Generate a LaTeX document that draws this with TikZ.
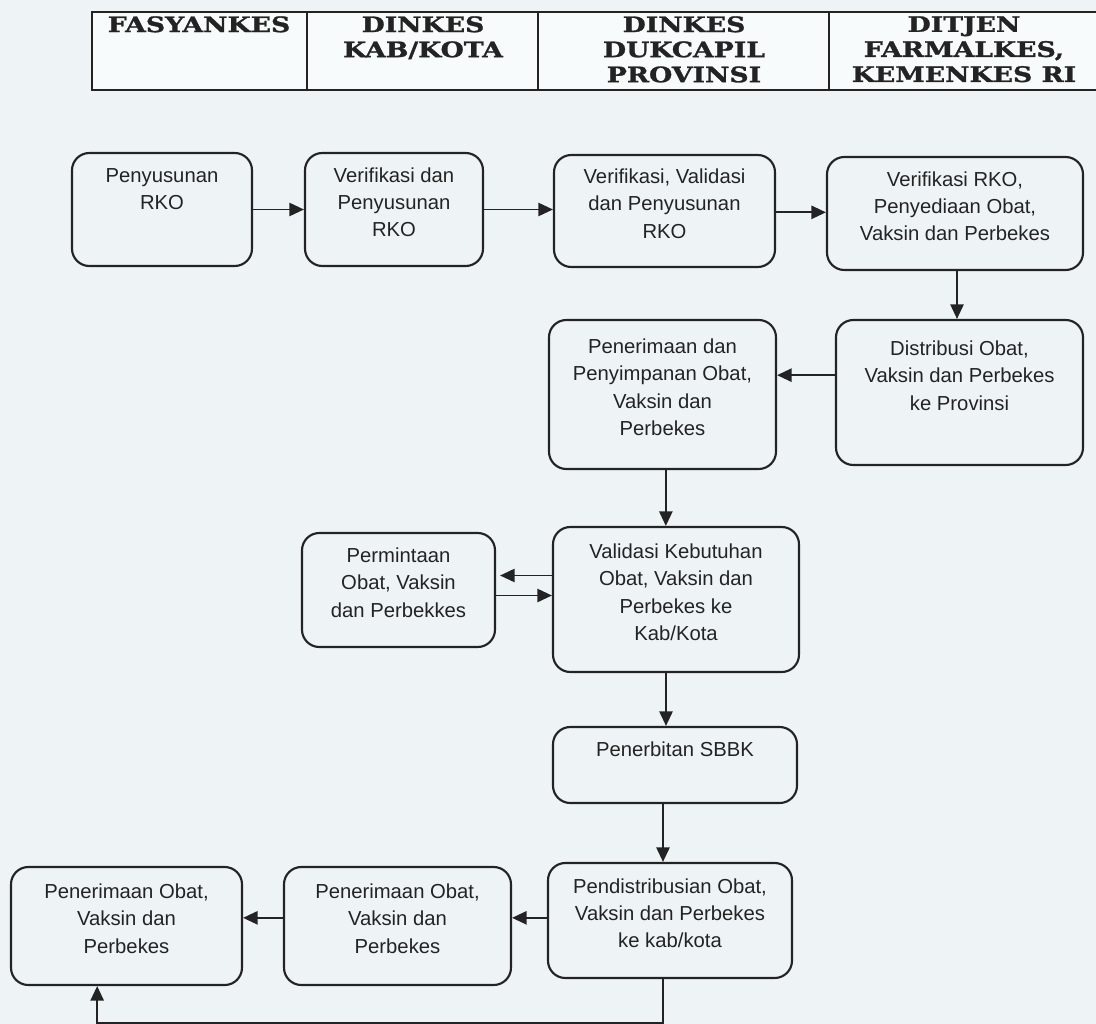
\documentclass[tikz,border=0pt]{standalone}
\usepackage{fontspec}
\setmainfont{Liberation Sans}
\newfontfamily\headfont[FakeStretch=1.25,FakeBold=1.3]{DejaVu Serif Bold}
\usetikzlibrary{arrows.meta,fit}
\definecolor{paper}{RGB}{238,244,246}
\definecolor{ink}{RGB}{35,35,35}
\begin{document}
\begin{tikzpicture}[x=0.75pt,y=-0.75pt,
  box/.style={draw=ink, line width=1.6pt, rounded corners=13pt, fill=paper,
    inner sep=0pt, align=center, font=\fontsize{15.2}{20.5}\selectfont, text=ink},
  hdr/.style={align=center, inner sep=0pt, text=ink,
    font=\headfont\fontsize{16}{18.8}\selectfont},
  arr/.style={draw=ink, line width=1.4pt, -{Triangle[length=11pt,width=10pt]}},
  grid/.style={draw=ink, line width=1pt}]
\useasboundingbox (0,0) rectangle (1096,1024);
\fill[paper] (0,0) rectangle (1096,1024);

% header table
\fill[white!60!paper] (92,12) rectangle (1096,90);
\draw[grid] (1096,12) -- (92,12) -- (92,90) -- (1096,90);
\draw[grid] (307,12) -- (307,90) (538,12) -- (538,90) (829,12) -- (829,90);
\node[hdr, anchor=north] (h1) at (199,16) {FASYANKES};
\node[hdr, anchor=north] (h2) at (423,16) {DINKES\\KAB/KOTA};
\node[hdr, anchor=north] (h3) at (684,16) {DINKES\\DUKCAPIL\\PROVINSI};
\node[hdr, anchor=north] (h4) at (964,16) {DITJEN\\FARMALKES,\\KEMENKES RI};

% process boxes
\node[box, fit={(72,153) (252,266)}] (b1) {Penyusunan\\RKO\\~};
\node[box, fit={(305,153) (483,266)}] (b2) {Verifikasi dan\\Penyusunan\\RKO};
\node[box, fit={(554,155) (775,267)}] (b3) {Verifikasi, Validasi\\dan Penyusunan\\RKO};
\node[box, fit={(827,157) (1083,270)}] (b4) {Verifikasi RKO,\\Penyediaan Obat,\\Vaksin dan Perbekes};
\node[box, fit={(836,320) (1083,465)}] (b5) {Distribusi Obat,\\Vaksin dan Perbekes\\ke Provinsi\\[-6pt]~};
\node[box, fit={(549,320) (776,469)}] (b6) {Penerimaan dan\\Penyimpanan Obat,\\Vaksin dan\\Perbekes};
\node[box, fit={(302,533) (495,647)}] (b7) {Permintaan\\Obat, Vaksin\\dan Perbekkes};
\node[box, fit={(553,527) (799,672)}] (b8) {Validasi Kebutuhan\\Obat, Vaksin dan\\Perbekes ke\\Kab/Kota};
\node[box, fit={(553,727) (797,803)}] (b9) {Penerbitan SBBK\\[-8pt]~};
\node[box, fit={(548,863) (792,978)}] (b10) {Pendistribusian Obat,\\Vaksin dan Perbekes\\ke kab/kota};
\node[box, fit={(284,867) (511,985)}] (b11) {Penerimaan Obat,\\Vaksin dan\\Perbekes};
\node[box, fit={(11,867) (242,985)}] (b12) {Penerimaan Obat,\\Vaksin dan\\Perbekes};

% connectors
\draw[arr] (b1) -- (b2);
\draw[arr] (b2.east) -- (b2.east -| b3.west);
\draw[arr] ([yshift=-1pt]b3.east) -- ([yshift=-1pt]b3.east -| b4.west);
\draw[arr] ([xshift=1.5pt]b4.south) -- ([xshift=1.5pt]b4.south |- b5.north);
\draw[arr] ([yshift=13pt]b5.west) -- ([yshift=13pt]b5.west -| b6.east);
\draw[arr] ([xshift=2.5pt]b6.south) -- ([xshift=2.5pt]b6.south |- b8.north);
\draw[arr, shorten >=3pt] ([yshift=18pt]b8.west) -- ([yshift=18pt]b8.west -| b7.east);
\draw[arr] ([yshift=3pt]b8.west -| b7.east) -- ([yshift=3pt]b8.west);
\draw[arr] ([xshift=-7.5pt]b8.south) -- ([xshift=-7.5pt]b8.south |- b9.north);
\draw[arr] ([xshift=-9pt]b9.south) -- ([xshift=-9pt]b9.south |- b10.north);
\draw[arr] ([yshift=2pt]b10.west) -- ([yshift=2pt]b10.west -| b11.east);
\draw[arr] ([yshift=2pt]b10.west -| b11.west) -- ([yshift=2pt]b10.west -| b12.east);
\coordinate (loop) at (0,1023);
\draw[arr] ([xshift=-5pt]b10.south) |- ([xshift=-22pt]b12.south |- loop) -- ([xshift=-22pt]b12.south);
\end{tikzpicture}
\end{document}
